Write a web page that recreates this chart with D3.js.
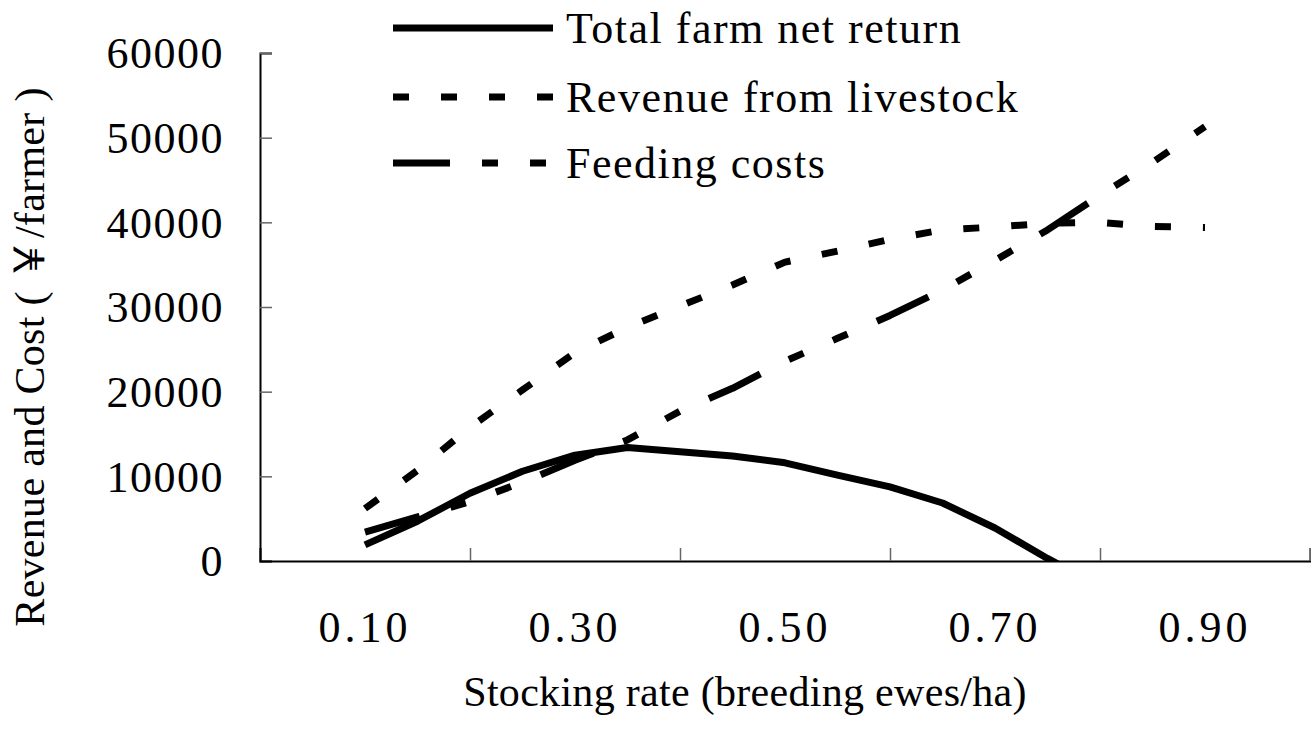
<!DOCTYPE html>
<html>
<head>
<meta charset="utf-8">
<script src="https://cdn.jsdelivr.net/npm/d3@7/dist/d3.min.js"></script>
<style>
  html, body { margin: 0; padding: 0; background: #fff; }
  svg { display: block; }
  text { font-family: "Liberation Serif", "Times New Roman", "Noto Sans CJK SC", serif; fill: #000; }
</style>
</head>
<body>
<svg id="chart" width="1311" height="734"></svg>
<script>
// ---- data ----
const stockingRate = [0.10, 0.15, 0.20, 0.25, 0.30, 0.35, 0.40, 0.45, 0.50, 0.55, 0.60, 0.65, 0.70, 0.75, 0.80, 0.85, 0.90];
const netReturn    = [1900, 4700, 8000, 10600, 12500, 13400, 12900, 12400, 11600, 10150, 8750, 6850, 3900, 300, -3000, -7000, -11500];
const revenue      = [6200, 10700, 15800, 20200, 24600, 27600, 30100, 32600, 35300, 36600, 38000, 39100, 39450, 39900, 40000, 39500, 39400];
const feedingCost  = [3400, 5200, 7000, 9300, 11900, 14300, 17700, 20400, 23600, 26300, 29000, 32000, 35500, 39100, 43200, 47100, 51300];

const seriesNames = ["Total farm net return", "Revenue from livestock", "Feeding costs"];
const xTickMarks  = [0.2, 0.4, 0.6, 0.8, 1.0];
const xTickLabels = ["0.10", "0.30", "0.50", "0.70", "0.90"];
const xLabelPos   = [0.1, 0.3, 0.5, 0.7, 0.9];
const yTicks      = [0, 10000, 20000, 30000, 40000, 50000, 60000];
const xTitle = "Stocking rate (breeding ewes/ha)";
const yTitle = "Revenue and Cost ( \uFFE5/farmer )";

// ---- layout ----
const L = 260, R = 1310, T = 53, B = 561;
const svg = d3.select("#chart");
const x = d3.scaleLinear().domain([0, 1.0]).range([L, R]);
const y = d3.scaleLinear().domain([0, 60000]).range([B, T]);

const dashes = [null, "16,32", "57,32,16,32,16,32"];
const allSeries = [netReturn, revenue, feedingCost];

svg.append("clipPath").attr("id", "plotclip")
  .append("rect").attr("x", L).attr("y", T - 20).attr("width", R - L).attr("height", B - T + 20);

// y axis
const yAxis = d3.axisLeft(y).tickValues(yTicks).tickSize(-12).tickPadding(36).tickFormat(d3.format("d"));
const gy = svg.append("g").attr("transform", `translate(${L},0)`).call(yAxis);
gy.select(".domain").attr("stroke", "#000").attr("stroke-width", 2);
gy.selectAll(".tick line").attr("stroke", "#666").attr("stroke-width", 1.5);
gy.selectAll(".tick text").attr("font-size", 44).attr("letter-spacing", 1.5)
  .attr("font-family", "Liberation Serif, serif").attr("dy", "0.34em");

// x axis (tick marks)
const xAxis = d3.axisBottom(x).tickValues(xTickMarks).tickSize(-13).tickFormat("");
const gx = svg.append("g").attr("transform", `translate(0,${B})`).call(xAxis);
gx.select(".domain").attr("stroke", "#000").attr("stroke-width", 2);
gx.selectAll(".tick line").attr("stroke", "#666").attr("stroke-width", 1.5);

// x labels
svg.append("g").selectAll("text").data(xLabelPos).join("text")
  .attr("x", d => x(d)).attr("y", 642)
  .attr("text-anchor", "middle").attr("font-size", 44).attr("letter-spacing", 4)
  .text((d, i) => xTickLabels[i]);

// titles
svg.append("text").attr("x", 745).attr("y", 706).attr("text-anchor", "middle")
  .attr("font-size", 42).attr("letter-spacing", 0.3).text(xTitle);
svg.append("text").attr("transform", "translate(44,357) rotate(-90)").attr("text-anchor", "middle")
  .attr("font-size", 42).attr("letter-spacing", 0.3).text(yTitle);

// lines
const line = d3.line().x((d, i) => x(stockingRate[i])).y(d => y(d));
const gl = svg.append("g").attr("clip-path", "url(#plotclip)");
allSeries.forEach((s, k) => {
  gl.append("path").attr("d", line(s)).attr("fill", "none").attr("stroke", "#000")
    .attr("stroke-width", 7).attr("stroke-linejoin", "round").attr("stroke-linecap", "butt")
    .attr("stroke-dasharray", dashes[k]);
});

// legend
const legY = [28, 97, 163];
const leg = svg.append("g");
seriesNames.forEach((name, k) => {
  leg.append("line").attr("x1", 393).attr("x2", 553).attr("y1", legY[k]).attr("y2", legY[k])
    .attr("stroke", "#000").attr("stroke-width", 7).attr("stroke-dasharray", dashes[k]);
  leg.append("text").attr("x", 566).attr("y", legY[k] + 15).attr("font-size", 44)
    .attr("letter-spacing", 1.5).text(name);
});
</script>
</body>
</html>
